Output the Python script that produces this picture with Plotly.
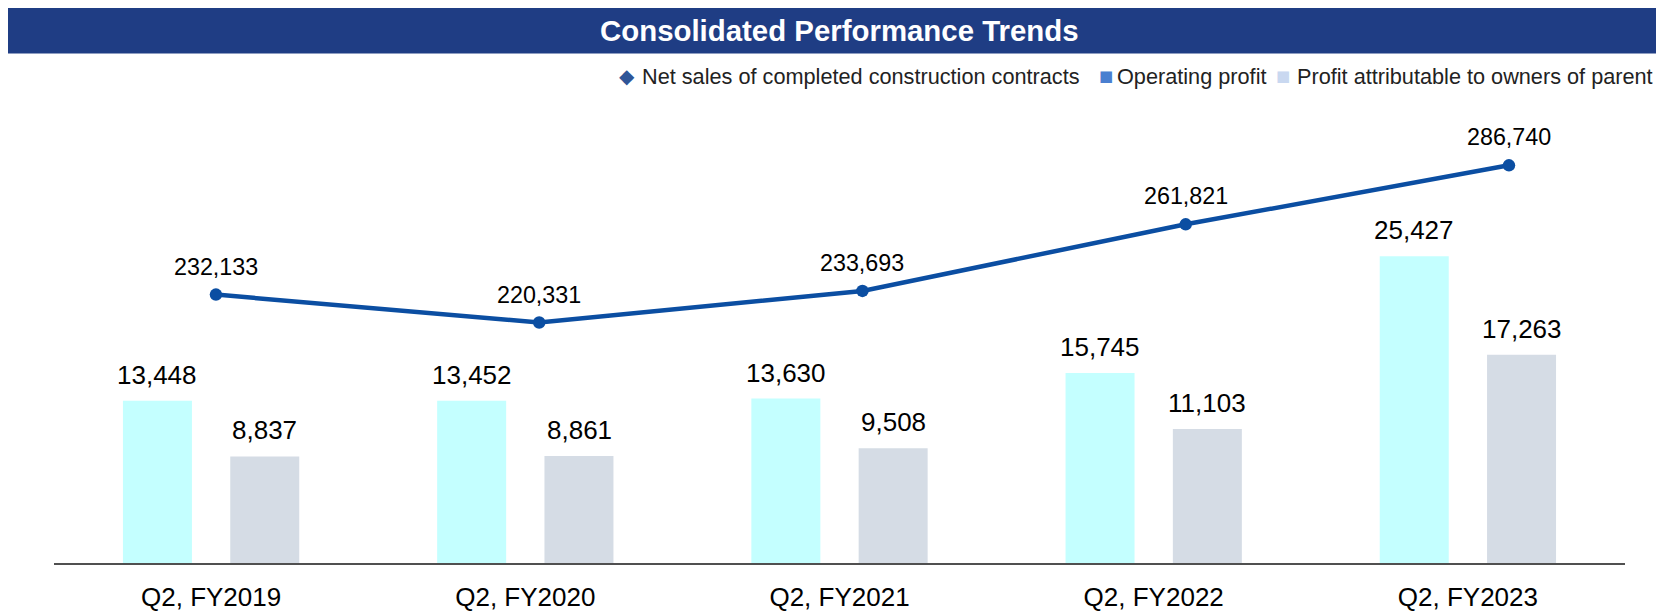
import plotly.graph_objects as go

categories = ["Q2, FY2019", "Q2, FY2020", "Q2, FY2021", "Q2, FY2022", "Q2, FY2023"]
net_sales = [232133, 220331, 233693, 261821, 286740]
operating_profit = [13448, 13452, 13630, 15745, 25427]
profit_owners = [8837, 8861, 9508, 11103, 17263]

series_names = ["Net sales of completed construction contracts",
                "Operating profit",
                "Profit attributable to owners of parent"]
title_text = "Consolidated Performance Trends"

# page offset of the figure (browser default body margin)
OFF = 8
W, H = 1664, 616
ML, MR, MT, MB = 46, 47, 92, 56
PW, PH = W - ML - MR, H - MT - MB


def px_x(px):
    """page-pixel x -> paper coordinate"""
    return (px - OFF - ML) / PW


def px_y(py):
    """page-pixel y -> paper coordinate"""
    return (H - MB - (py - OFF)) / PH


FONT = "Liberation Sans, Arial, sans-serif"
LINE_COLOR = "#0B4EA2"
CYAN = "#C4FFFF"
GREY = "#D5DCE5"

fig = go.Figure()
fig.add_trace(go.Bar(x=categories, y=operating_profit, name=series_names[1],
                     marker=dict(color=CYAN, line=dict(width=0)), showlegend=False,
                     xaxis="x", yaxis="y"))
fig.add_trace(go.Bar(x=categories, y=profit_owners, name=series_names[2],
                     marker=dict(color=GREY, line=dict(width=0)), showlegend=False,
                     xaxis="x", yaxis="y"))
fig.add_trace(go.Scatter(x=categories, y=net_sales, name=series_names[0],
                         mode="lines+markers", line=dict(color=LINE_COLOR, width=4.5),
                         marker=dict(size=12.5, color=LINE_COLOR), showlegend=False,
                         xaxis="x2", yaxis="y2", cliponaxis=False))

annotations = []
bar_shift = 53.7
for c, v in zip(categories, operating_profit):
    annotations.append(dict(x=c, y=v, xref="x", yref="y", text=f"{v:,}", showarrow=False,
                            xshift=-bar_shift, yshift=26, yanchor="middle",
                            font=dict(family=FONT, size=26, color="#000000")))
for c, v in zip(categories, profit_owners):
    annotations.append(dict(x=c, y=v, xref="x", yref="y", text=f"{v:,}", showarrow=False,
                            xshift=bar_shift, yshift=26, yanchor="middle",
                            font=dict(family=FONT, size=26, color="#000000")))
for c, v in zip(categories, net_sales):
    annotations.append(dict(x=c, y=v, xref="x2", yref="y2", text=f"{v:,}", showarrow=False,
                            yshift=28, yanchor="middle",
                            font=dict(family=FONT, size=23.3, color="#000000")))

# title
annotations.append(dict(x=px_x(839), y=px_y(30), xref="paper", yref="paper",
                        text=f"<b>{title_text}</b>", showarrow=False,
                        xanchor="center", yanchor="middle",
                        font=dict(family=FONT, size=29.4, color="#FFFFFF")))

# custom legend
leg_y = px_y(76)
leg_items = [("◆", "#2F5597", 627, series_names[0], 640, 20),
             ("■", "#4A7FD0", 1106, series_names[1], 1115, 15),
             ("■", "#C9D8F0", 1283, series_names[2], 1295, 15)]
for sym, col, sx, label, tx, ssize in leg_items:
    annotations.append(dict(x=px_x(sx), y=leg_y, xref="paper", yref="paper", text=sym,
                            showarrow=False, xanchor="center", yanchor="middle",
                            font=dict(family="DejaVu Sans", size=ssize, color=col)))
    annotations.append(dict(x=px_x(tx), y=leg_y, xref="paper", yref="paper", text=label,
                            showarrow=False, xanchor="left", yanchor="middle",
                            font=dict(family=FONT, size=21.7, color="#222222")))

fig.update_layout(
    width=W, height=H,
    margin=dict(l=ML, r=MR, t=MT, b=MB, pad=0),
    paper_bgcolor="white", plot_bgcolor="white",
    barmode="group", bargap=0.317, bargroupgap=0.357,
    showlegend=False,
    xaxis=dict(type="category", range=[-0.5, 4.5], showline=True, linecolor="#505050",
               linewidth=2, showgrid=False, zeroline=False, ticks="",
               tickfont=dict(family=FONT, size=26, color="#000000"),
               ticklabelstandoff=10),
    xaxis2=dict(type="category", range=[-0.501, 4.359], overlaying="x", side="bottom",
                visible=False),
    yaxis=dict(range=[0, 38380], visible=False),
    yaxis2=dict(range=[118760, 314330], overlaying="y", visible=False),
    shapes=[dict(type="rect", xref="paper", yref="paper",
                 x0=px_x(8), x1=px_x(1662), y0=px_y(53), y1=px_y(7),
                 fillcolor="#1F3D84", line=dict(width=0), layer="below")],
    annotations=annotations,
)

fig.write_html("out.html", config={"displayModeBar": False})
